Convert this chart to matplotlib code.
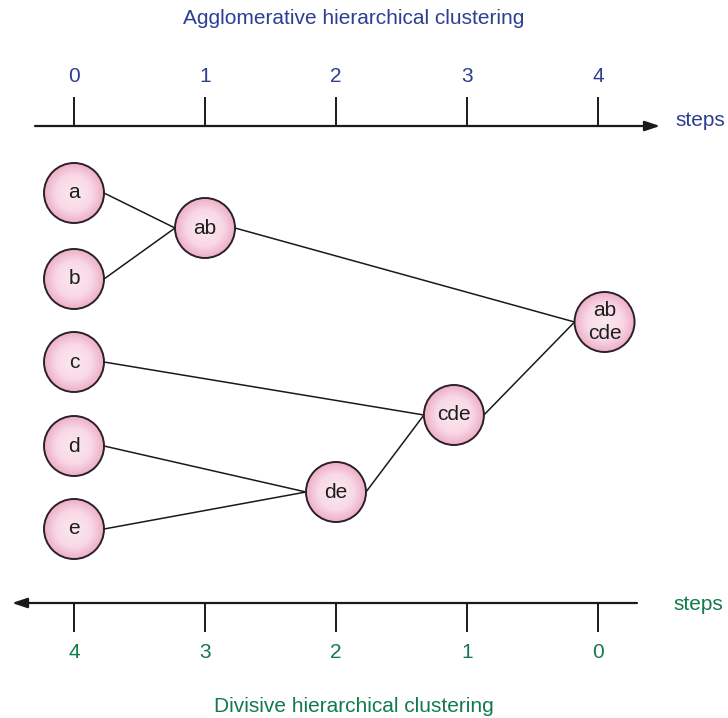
# Agglomerative vs divisive hierarchical clustering diagram

import numpy as np
import matplotlib.pyplot as plt
from matplotlib.colors import to_rgb

plt.rcParams['font.family'] = ['Liberation Sans', 'DejaVu Sans']

# data
steps = [0, 1, 2, 3, 4]
agglo_labels = ['0', '1', '2', '3', '4']
divis_labels = ['4', '3', '2', '1', '0']

node_names = ['a', 'b', 'c', 'd', 'e', 'ab', 'de', 'cde', 'ab\ncde']
node_step = [0, 0, 0, 0, 0, 1, 2, 2.9, 4.05]
node_y = [193, 279, 362, 446, 529, 228, 492, 415, 322]

# child -> parent merges
edges = [('a', 'ab'), ('b', 'ab'), ('d', 'de'), ('e', 'de'),
         ('c', 'cde'), ('de', 'cde'), ('ab', 'ab\ncde'), ('cde', 'ab\ncde')]

blue = '#2d3f92'
green = '#137a4a'
ink = '#1a1a1a'
fs = 15

W, H = 728, 718
px_step = 131.0   # pixels per step
x0_px = 74.0      # pixel of step 0
r_px = 30.0       # node radius in pixels

fig = plt.figure(figsize=(W / 100, H / 100), dpi=100)
ax = fig.add_axes([0, 0, 1, 1])
ax.set_xlim(-x0_px / px_step, (W - x0_px) / px_step)
ax.set_ylim(H, 0)
ax.axis('off')

r = r_px / px_step
pos = {n: (x, y) for n, x, y in zip(node_names, node_step, node_y)}

# connecting lines: right edge of child to left edge of parent
for c, p in edges:
    cx, cy = pos[c]
    px, py = pos[p]
    ax.plot([cx + r, px - r], [cy, py], color=ink, lw=1.1, zorder=1)

# nodes with a soft radial pink shading
d_pt = 2 * r_px * 0.72
xs = np.array(node_step)
ys = np.array(node_y)
edge_c = np.array(to_rgb('#eeafc8'))
mid_c = np.array(to_rgb('#f8d9e5'))
core_c = np.array(to_rgb('#fbe8ef'))
n_layers = 30
for i in range(n_layers):
    f = 1.0 - i / n_layers
    t = i / (n_layers - 1)
    if t < 0.4:
        col = edge_c + (mid_c - edge_c) * (t / 0.4)
    else:
        col = mid_c + (core_c - mid_c) * ((t - 0.4) / 0.6)
    ax.scatter(xs, ys, s=(d_pt * f) ** 2, color=col, edgecolors='none', zorder=2)
ax.scatter(xs, ys, s=d_pt ** 2, facecolors='none', edgecolors='#2b2226',
           linewidths=1.4, zorder=3)
for n, x, y in zip(node_names, node_step, node_y):
    ax.text(x, y, n, ha='center', va='center', fontsize=fs, color='#1e1e1e',
            linespacing=1.25, zorder=4)

# top axis (agglomerative)
ax.annotate('', xy=((660 - x0_px) / px_step, 126), xytext=((35 - x0_px) / px_step, 126),
            arrowprops=dict(arrowstyle='-|>,head_length=0.9,head_width=0.3',
                            color=ink, lw=1.6, shrinkA=0, shrinkB=0))
ax.vlines(steps, 97, 126, color=ink, lw=1.4)
for s, lab in zip(steps, agglo_labels):
    ax.text(s, 77, lab, ha='center', va='center', fontsize=fs, color=blue)
ax.text((700 - x0_px) / px_step, 121, 'steps', ha='center', va='center',
        fontsize=fs, color=blue)
ax.text((354 - x0_px) / px_step, 18, 'Agglomerative hierarchical clustering',
        ha='center', va='center', fontsize=fs, color=blue)

# bottom axis (divisive)
ax.annotate('', xy=((12 - x0_px) / px_step, 603), xytext=((637 - x0_px) / px_step, 603),
            arrowprops=dict(arrowstyle='-|>,head_length=0.9,head_width=0.3',
                            color=ink, lw=1.6, shrinkA=0, shrinkB=0))
ax.vlines(steps, 603, 632, color=ink, lw=1.4)
for s, lab in zip(steps, divis_labels):
    ax.text(s, 652, lab, ha='center', va='center', fontsize=fs, color=green)
ax.text((698 - x0_px) / px_step, 604, 'steps', ha='center', va='center',
        fontsize=fs, color=green)
ax.text((354 - x0_px) / px_step, 706, 'Divisive hierarchical clustering',
        ha='center', va='center', fontsize=fs, color=green)

fig.savefig('out.png', dpi=100)
